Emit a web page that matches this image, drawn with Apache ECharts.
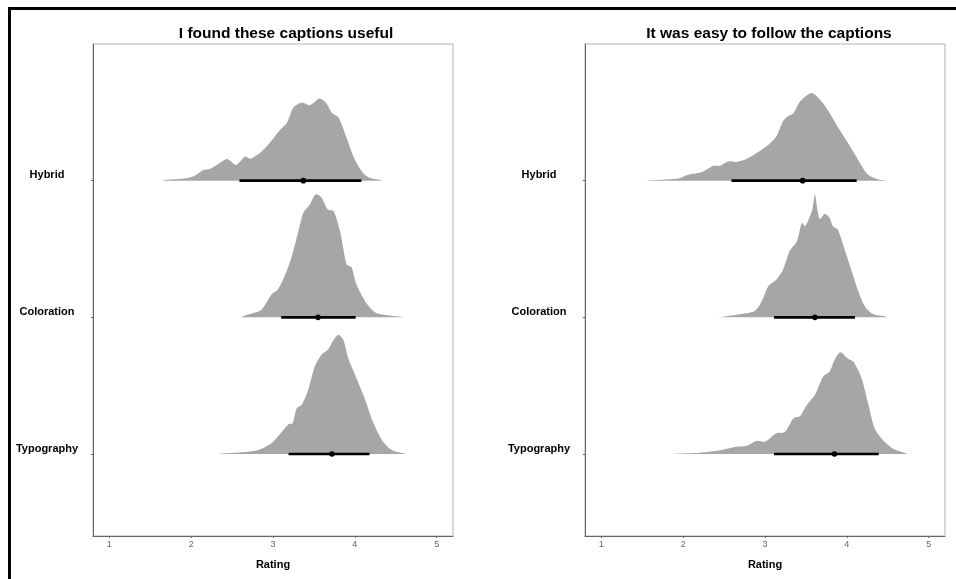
<!DOCTYPE html>
<html>
<head>
<meta charset="utf-8">
<script src="https://cdn.jsdelivr.net/npm/echarts@6/dist/echarts.min.js"></script>
<style>
  html, body { margin: 0; padding: 0; background: #fff; }
  #chart { width: 956px; height: 579px; position: relative; }
  #frame { position: absolute; left: 8px; top: 7px; right: -10px; bottom: -10px;
           border-left: 3px solid #000; border-top: 3px solid #000; pointer-events: none; z-index: 10; }
</style>
</head>
<body>
<div id="chart"></div>
<div id="frame"></div>
<script>
// ---- data ----
const categories = ['Typography', 'Coloration', 'Hybrid'];
const panelTitles = ['I found these captions useful', 'It was easy to follow the captions'];
const xTicks = [1, 2, 3, 4, 5];
const xName = 'Rating';

// Panel 1: "I found these captions useful" — densities (height in row units)
const usefulTypographyX = [2.35, 2.62, 2.82, 2.98, 3.11, 3.19, 3.24, 3.29, 3.35, 3.43, 3.51, 3.59, 3.67, 3.74, 3.80, 3.86, 3.92, 4.02, 4.12, 4.22, 4.33, 4.45, 4.61];
const usefulTypographyD = [0.002, 0.012, 0.029, 0.078, 0.163, 0.218, 0.225, 0.335, 0.359, 0.469, 0.640, 0.725, 0.762, 0.835, 0.872, 0.835, 0.701, 0.555, 0.408, 0.237, 0.103, 0.029, 0.002];
const usefulColorationX = [2.62, 2.76, 2.86, 2.98, 3.06, 3.15, 3.23, 3.31, 3.37, 3.45, 3.52, 3.59, 3.67, 3.74, 3.82, 3.90, 3.96, 4.02, 4.14, 4.26, 4.47, 4.59];
const usefulColorationD = [0.005, 0.032, 0.056, 0.166, 0.203, 0.313, 0.447, 0.630, 0.764, 0.826, 0.899, 0.879, 0.789, 0.777, 0.630, 0.386, 0.366, 0.240, 0.105, 0.032, 0.010, 0.002];
const usefulHybridX = [1.66, 1.91, 2.03, 2.15, 2.23, 2.33, 2.44, 2.55, 2.66, 2.72, 2.84, 2.96, 3.09, 3.17, 3.25, 3.35, 3.45, 3.57, 3.65, 3.72, 3.80, 3.90, 4.00, 4.10, 4.18, 4.34];
const usefulHybridD = [0.004, 0.015, 0.032, 0.078, 0.086, 0.122, 0.159, 0.115, 0.176, 0.161, 0.203, 0.276, 0.374, 0.423, 0.537, 0.571, 0.552, 0.601, 0.569, 0.496, 0.464, 0.313, 0.154, 0.056, 0.022, 0.002];
const usefulLow = [3.19, 3.10, 2.59];
const usefulMid = [3.72, 3.55, 3.37];
const usefulHigh = [4.18, 4.01, 4.08];

// Panel 2: "It was easy to follow the captions"
const easyTypographyX = [1.88, 2.21, 2.45, 2.65, 2.78, 2.90, 3.00, 3.14, 3.24, 3.35, 3.43, 3.51, 3.61, 3.71, 3.79, 3.85, 3.92, 4.02, 4.08, 4.18, 4.26, 4.34, 4.44, 4.57, 4.73];
const easyTypographyD = [0.002, 0.010, 0.027, 0.053, 0.061, 0.097, 0.090, 0.152, 0.159, 0.262, 0.278, 0.359, 0.432, 0.566, 0.603, 0.689, 0.745, 0.696, 0.676, 0.555, 0.371, 0.188, 0.103, 0.037, 0.005];
const easyColorationX = [2.35, 2.49, 2.70, 2.88, 2.96, 3.04, 3.14, 3.22, 3.30, 3.39, 3.45, 3.49, 3.55, 3.58, 3.61, 3.64, 3.67, 3.73, 3.79, 3.83, 3.89, 3.98, 4.06, 4.14, 4.22, 4.32, 4.48, 4.52];
const easyColorationD = [0.000, 0.005, 0.024, 0.049, 0.117, 0.227, 0.276, 0.349, 0.484, 0.557, 0.691, 0.667, 0.740, 0.790, 0.899, 0.790, 0.720, 0.757, 0.727, 0.667, 0.642, 0.484, 0.337, 0.190, 0.081, 0.024, 0.005, 0.000];
const easyHybridX = [1.56, 1.76, 1.94, 2.06, 2.23, 2.37, 2.45, 2.55, 2.65, 2.78, 2.90, 3.02, 3.14, 3.22, 3.28, 3.35, 3.43, 3.57, 3.69, 3.79, 3.91, 4.04, 4.16, 4.26, 4.40, 4.48];
const easyHybridD = [0.002, 0.007, 0.015, 0.044, 0.064, 0.110, 0.110, 0.141, 0.137, 0.161, 0.203, 0.251, 0.325, 0.434, 0.471, 0.496, 0.581, 0.642, 0.581, 0.496, 0.374, 0.251, 0.130, 0.044, 0.007, 0.002];
const easyLow = [3.11, 3.11, 2.59];
const easyMid = [3.85, 3.61, 3.46];
const easyHigh = [4.39, 4.10, 4.12];

// ---- build ----
const ridges = [
  [[usefulTypographyX, usefulTypographyD], [usefulColorationX, usefulColorationD], [usefulHybridX, usefulHybridD]],
  [[easyTypographyX, easyTypographyD], [easyColorationX, easyColorationD], [easyHybridX, easyHybridD]]
];
const intervals = [[usefulLow, usefulMid, usefulHigh], [easyLow, easyMid, easyHigh]];

const FONT = '"Liberation Sans", Arial, sans-serif';
const gridLefts = [93, 585];
const titleCenters = [286, 769];

const grids = [], xAxes = [], yAxes = [], titles = [], series = [];
for (let p = 0; p < 2; p++) {
  grids.push({ left: gridLefts[p], top: 44, width: 360, height: 492, show: true,
    borderColor: '#b3b3b3', borderWidth: 1, backgroundColor: 'transparent' });
  titles.push({ text: panelTitles[p], left: titleCenters[p], top: 26, textAlign: 'center', padding: 0,
    textStyle: { fontFamily: FONT, fontSize: 15.5, fontWeight: 'bold', color: '#000' } });
  xAxes.push({ type: 'value', gridIndex: p, min: 0.8, max: 5.2,
    name: xName, nameLocation: 'middle', nameGap: 23,
    nameTextStyle: { fontFamily: FONT, fontSize: 11, fontWeight: 'bold', color: '#000' },
    splitLine: { show: false },
    axisLine: { show: true, onZero: false, lineStyle: { color: '#666', width: 1 } },
    axisTick: { show: true, customValues: xTicks, length: 2, lineStyle: { color: '#666' } },
    axisLabel: { customValues: xTicks, margin: 4, fontFamily: FONT, fontSize: 9, color: '#666' } });
  yAxes.push({ type: 'value', gridIndex: p, min: 0.4, max: 4.0,
    splitLine: { show: false },
    axisLine: { show: true, onZero: false, lineStyle: { color: '#666', width: 1 } },
    axisTick: { show: true, customValues: [1, 2, 3], length: 2, lineStyle: { color: '#666' } },
    axisLabel: { customValues: [1, 2, 3], margin: 46, align: 'center', verticalAlign: 'bottom',
      fontFamily: FONT, fontSize: 11, fontWeight: 'bold', color: '#000',
      formatter: v => categories[Math.round(v) - 1] } });

  const ridgeSet = ridges[p];
  series.push({
    type: 'custom', xAxisIndex: p, yAxisIndex: p, z: 2, silent: true,
    data: categories.map((c, i) => [intervals[p][1][i], i + 1]),
    renderItem: function (params, api) {
      const i = params.dataIndex;
      const xs = ridgeSet[i][0], ds = ridgeSet[i][1];
      const base = i + 1;
      const pts = [api.coord([xs[0], base])];
      for (let k = 0; k < xs.length; k++) pts.push(api.coord([xs[k], base + ds[k]]));
      pts.push(api.coord([xs[xs.length - 1], base]));
      return { type: 'polygon', shape: { points: pts, smooth: 0.25 },
        style: { fill: '#a6a6a6', stroke: null } };
    }
  });
  const iv = intervals[p];
  series.push({
    type: 'custom', xAxisIndex: p, yAxisIndex: p, z: 3, silent: true,
    data: categories.map((c, i) => [iv[0][i], iv[1][i], iv[2][i], i + 1]),
    encode: { x: [0, 1, 2], y: 3 },
    renderItem: function (params, api) {
      const y = api.value(3);
      const a = api.coord([api.value(0), y]);
      const b = api.coord([api.value(2), y]);
      const m = api.coord([api.value(1), y]);
      return { type: 'group', children: [
        { type: 'line', shape: { x1: a[0], y1: a[1], x2: b[0], y2: b[1] },
          style: { stroke: '#000', lineWidth: 2.6 } },
        { type: 'circle', shape: { cx: m[0], cy: m[1], r: 2.8 }, style: { fill: '#000' } }
      ] };
    }
  });
}

const chart = echarts.init(document.getElementById('chart'), null, { renderer: 'canvas' });
chart.setOption({
  animation: false,
  backgroundColor: '#fff',
  title: titles,
  grid: grids,
  xAxis: xAxes,
  yAxis: yAxes,
  series: series
});
</script>
</body>
</html>
